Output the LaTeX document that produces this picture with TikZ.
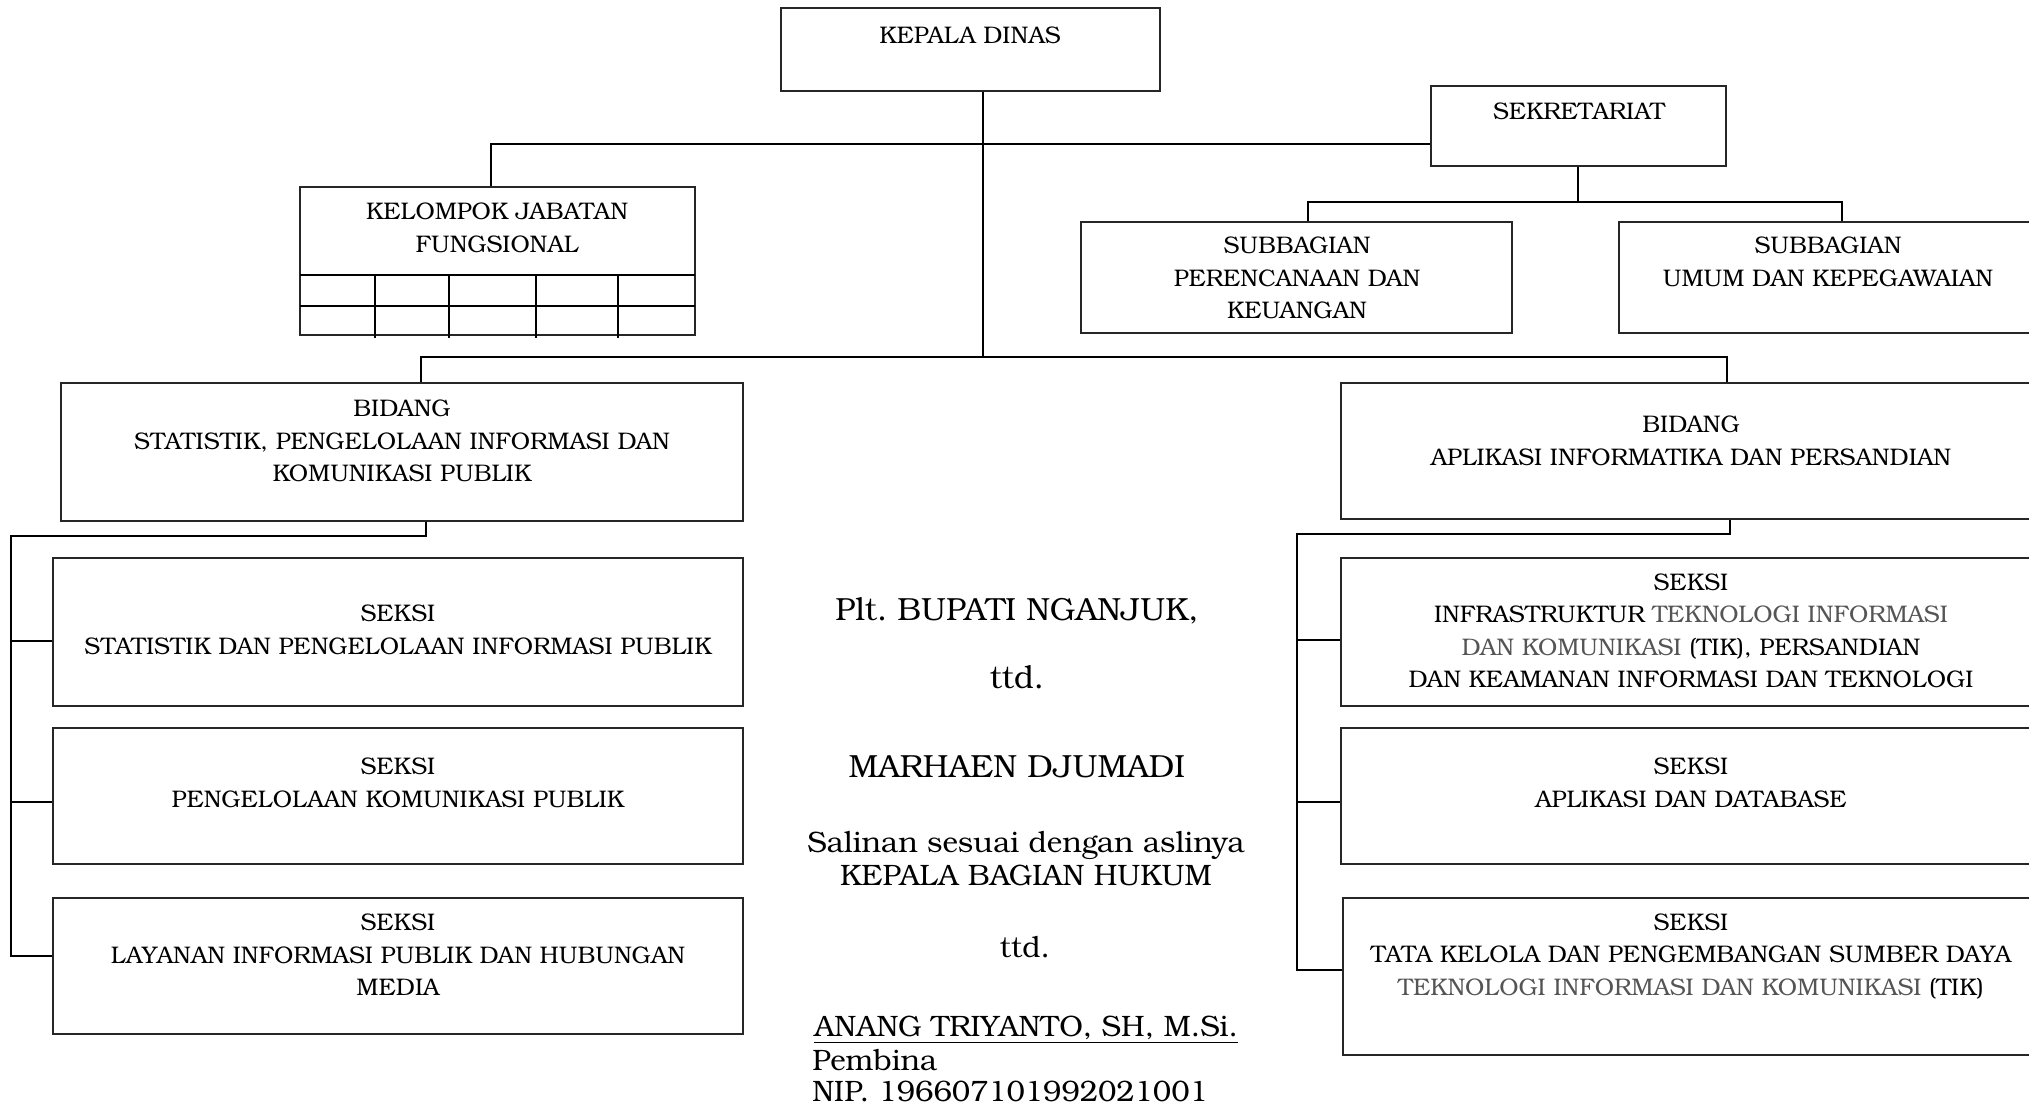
\documentclass[tikz,border=0pt]{standalone}
\usepackage{fontspec}
\setmainfont{texgyrebonum}[Extension=.otf, UprightFont=*-regular, BoldFont=*-bold]
\usetikzlibrary{fit}
\definecolor{tikgray}{HTML}{555555}

\begin{document}
\begin{tikzpicture}[x=0.5pt, y=-0.5pt,
    box/.style={draw=black!85, line width=0.7pt, inner sep=0pt},
    grid/.style={line width=0.9pt},
    conn/.style={line width=1pt},
    lbl/.style={align=center, font=\fontsize{12}{16.25}\selectfont, inner sep=0pt},
    sign/.style={font=\fontsize{14.75}{16}\selectfont, inner sep=0pt},
    signbig/.style={font=\fontsize{16}{18}\selectfont, inner sep=0pt}]
  \useasboundingbox (0,0) rectangle (2029,1107);

  % top level
  \node[box, fit={(781,8) (1160,91)}] (kadis) {};
  \node[lbl] (kadistxt) at (970,35) {KEPALA DINAS};
  \node[box, fit={(1431,86) (1726,166)}] (sekr) {};
  \node[lbl] (sekrtxt) at (1579,111) {SEKRETARIAT};
  \node[box, fit={(1081,222) (1512,333)}] (subpk) {};
  \node[lbl] (subpktxt) at (1297,278) {SUBBAGIAN\\PERENCANAAN DAN\\KEUANGAN};
  \node[box, fit={(1619,222) (2040,333)}] (subum) {};
  \node[lbl] (subumtxt) at (1828,262) {SUBBAGIAN\\UMUM DAN KEPEGAWAIAN};

  % kelompok jabatan fungsional
  \node[box, fit={(300,187) (695,335)}] (kjf) {};
  \node[lbl] (kjftxt) at (497,228) {KELOMPOK JABATAN\\FUNGSIONAL};
  \draw[grid] (300,275) -- (695,275);
  \draw[grid] (300,306) -- (695,306);
  \foreach \gx in {375,449,536,618}
    \draw[grid] (\gx,275) -- (\gx,338);

  % bidang
  \node[box, fit={(61,383) (743,521)}] (bidL) {};
  \node[lbl] (bidLtxt) at (402,441) {BIDANG\\STATISTIK, PENGELOLAAN INFORMASI DAN\\KOMUNIKASI PUBLIK};
  \node[box, fit={(1341,383) (2043,519)}] (bidR) {};
  \node[lbl] (bidRtxt) at (1691,441) {BIDANG\\APLIKASI INFORMATIKA DAN PERSANDIAN};

  % seksi kiri
  \node[box, fit={(53,558) (743,706)}] (sL1) {};
  \node[lbl] (sL1txt) at (398,630) {SEKSI\\STATISTIK DAN PENGELOLAAN INFORMASI PUBLIK};
  \node[box, fit={(53,728) (743,864)}] (sL2) {};
  \node[lbl] (sL2txt) at (398,783) {SEKSI\\PENGELOLAAN KOMUNIKASI PUBLIK};
  \node[box, fit={(53,898) (743,1034)}] (sL3) {};
  \node[lbl] (sL3txt) at (398,955) {SEKSI\\LAYANAN INFORMASI PUBLIK DAN HUBUNGAN\\MEDIA};

  % seksi kanan
  \node[box, fit={(1341,558) (2043,706)}] (sR1) {};
  \node[lbl] (sR1txt) at (1691,631) {SEKSI\\INFRASTRUKTUR {\color{tikgray}TEKNOLOGI INFORMASI}\\{\color{tikgray}DAN KOMUNIKASI} (TIK), PERSANDIAN\\DAN KEAMANAN INFORMASI DAN TEKNOLOGI};
  \node[box, fit={(1341,728) (2043,864)}] (sR2) {};
  \node[lbl] (sR2txt) at (1691,783) {SEKSI\\APLIKASI DAN DATABASE};
  \node[box, fit={(1343,898) (2043,1055)}] (sR3) {};
  \node[lbl] (sR3txt) at (1691,956) {SEKSI\\TATA KELOLA DAN PENGEMBANGAN SUMBER DAYA\\{\color{tikgray}TEKNOLOGI INFORMASI DAN KOMUNIKASI} (TIK)};

  % garis
  \coordinate (kjfdrop) at (491,144);
  \coordinate (trunk) at (983,357);
  \coordinate (busL) at (421,357);
  \coordinate (busR) at (1727,357);
  \draw[conn] (kjf.north -| kjfdrop) -- (kjfdrop) -- (sekr.west |- kjfdrop);
  \draw[conn] (kadis.south -| trunk) -- (trunk);
  \draw[conn] (bidL.north -| busL) -- (busL) -- (busR) -- (bidR.north -| busR);

  \coordinate (sekbus) at (1578,202);
  \coordinate (sekbusL) at (1308,202);
  \coordinate (sekbusR) at (1842,202);
  \draw[conn] (sekr.south -| sekbus) -- (sekbus);
  \draw[conn] (subpk.north -| sekbusL) -- (sekbusL) -- (sekbusR) -- (subum.north -| sekbusR);

  \coordinate (bidLdrop) at (426,536);
  \coordinate (jL0) at (11,536);
  \coordinate (jL1) at (11,641);
  \coordinate (jL2) at (11,802);
  \coordinate (jL3) at (11,956);
  \draw[conn] (bidL.south -| bidLdrop) -- (bidLdrop) -- (jL0) -- (jL3) -- (sL3.west |- jL3);
  \draw[conn] (jL1) -- (sL1.west |- jL1);
  \draw[conn] (jL2) -- (sL2.west |- jL2);

  \coordinate (bidRdrop) at (1730,534);
  \coordinate (jR0) at (1297,534);
  \coordinate (jR1) at (1297,640);
  \coordinate (jR2) at (1297,802);
  \coordinate (jR3) at (1297,970);
  \draw[conn] (bidR.south -| bidRdrop) -- (bidRdrop) -- (jR0) -- (jR3) -- (sR3.west |- jR3);
  \draw[conn] (jR1) -- (sR1.west |- jR1);
  \draw[conn] (jR2) -- (sR2.west |- jR2);

  % tanda tangan
  \node[signbig, anchor=base] (plt) at (1017,620) {Plt.\ BUPATI NGANJUK,};
  \node[signbig, anchor=base] (ttd1) at (1017,688) {ttd.};
  \node[signbig, anchor=base] (bupati) at (1017,777) {MARHAEN DJUMADI};
  \node[sign, anchor=base] (salinan) at (1026,852) {Salinan sesuai dengan aslinya};
  \node[sign, anchor=base] (kabag) at (1026,885) {KEPALA BAGIAN HUKUM};
  \node[sign, anchor=base] (ttd2) at (1025,957) {ttd.};
  \node[sign, anchor=base west] (kabagnama) at (814,1036) {\underline{ANANG TRIYANTO, SH, M.Si.}};
  \node[sign, anchor=base west] (pangkat) at (812,1070) {Pembina};
  \node[sign, anchor=base west] (nip) at (812,1101) {NIP. 196607101992021001};
\end{tikzpicture}
\end{document}
